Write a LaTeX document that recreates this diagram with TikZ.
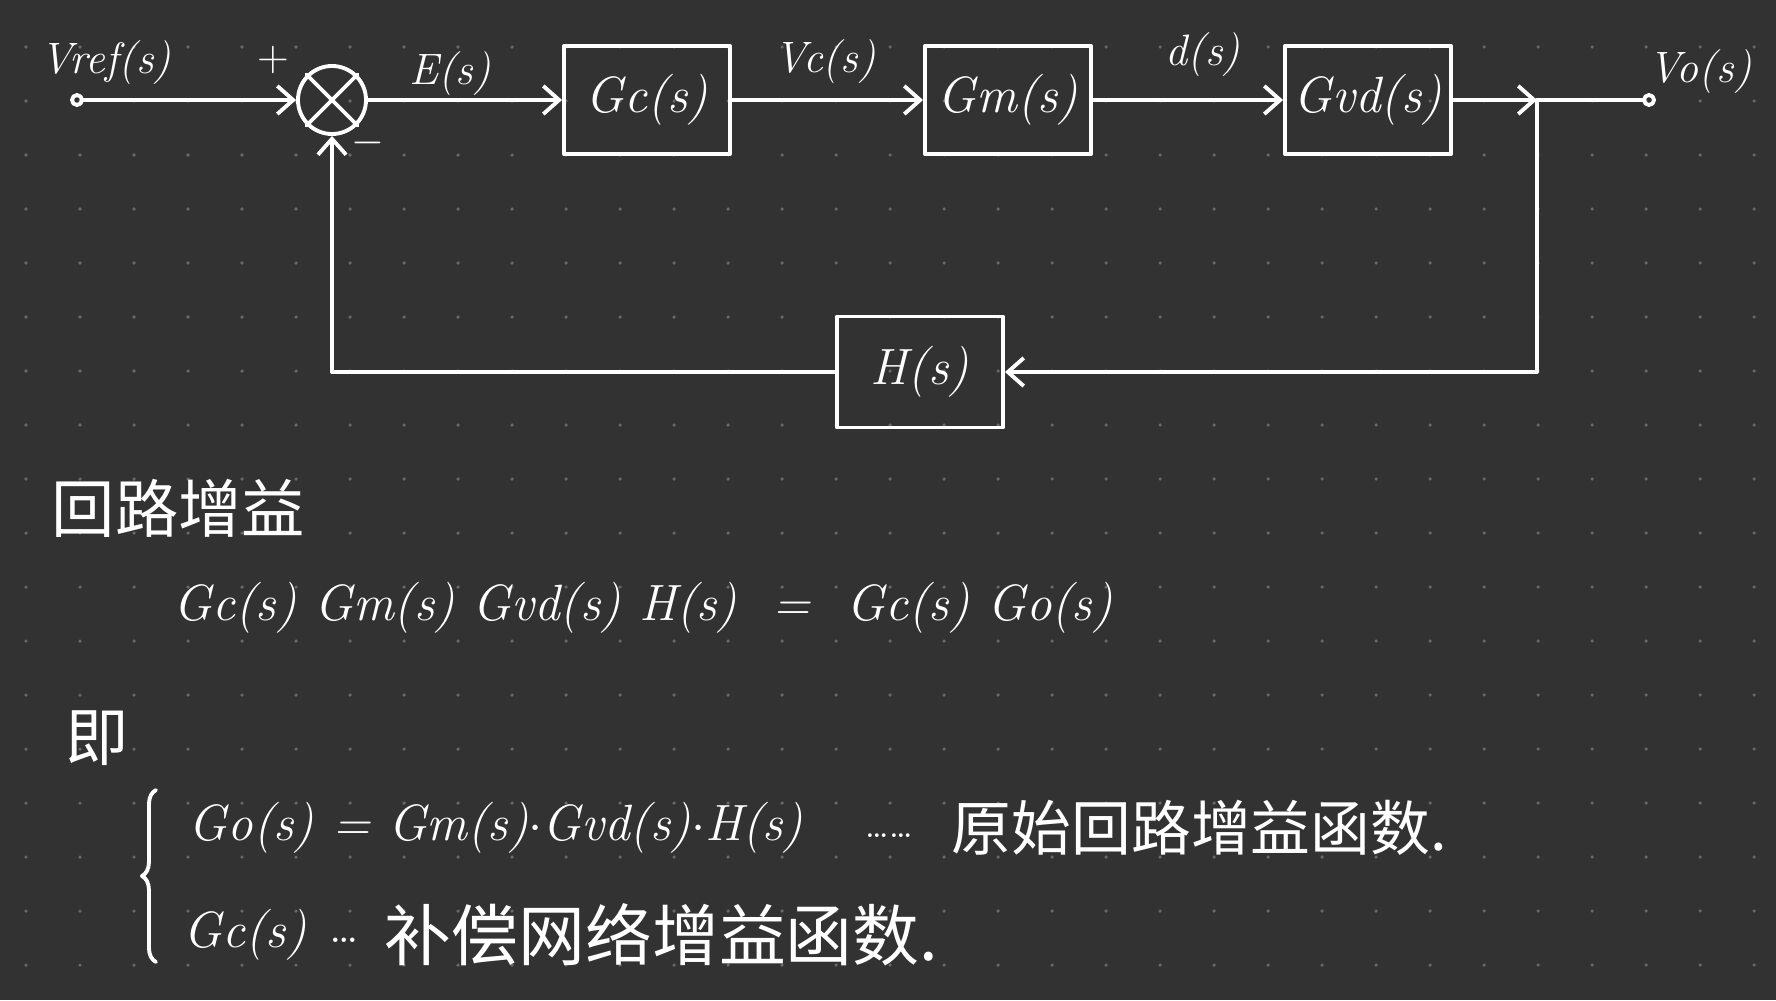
\documentclass[tikz,border=0pt]{standalone}
\usepackage{fontspec}
\newfontfamily\cjk{Noto Sans CJK SC}
\usetikzlibrary{arrows.meta,decorations.pathreplacing}
\definecolor{boardbg}{RGB}{50,50,50}
\definecolor{griddot}{RGB}{105,105,105}
\begin{document}
\begin{tikzpicture}[x=0.01cm,y=-0.01cm,line width=1.1pt,line cap=round,line join=round,white,
	>={Straight Barb[length=4.5pt,width=8pt]},
	blockbox/.style={draw,minimum width=1.66cm,minimum height=1.08cm,inner sep=0pt,font=\fontsize{14.5}{16}\selectfont\itshape},
	sumnode/.style={draw,circle,minimum size=0.68cm,inner sep=0pt},
	port/.style={draw,circle,minimum size=0.1cm,inner sep=0pt},
	siglabel/.style={font=\fontsize{12.5}{14}\selectfont\itshape},
	eqtext/.style={anchor=west,inner sep=0pt,font=\fontsize{14.5}{17}\selectfont\itshape},
	cntext/.style={anchor=west,inner sep=0pt,font=\cjk\fontsize{17}{19}\selectfont}]
	\fill[boardbg] (0,0) rectangle (1776,1000);
	\foreach \i in {0,...,32} \foreach \j in {0,...,17} \fill[griddot] (26+54*\i,47+54*\j) circle(0.5pt);
	\node[port] (vin) at (77,100) {};
	\node[siglabel] (vreflbl) at (106,63) {Vref(s)};
	\node[sumnode] (sum) at (332,100) {};
	\draw (sum.north west) -- (sum.south east) (sum.north east) -- (sum.south west);
	\node[siglabel] (plus) at (273,60) {$+$};
	\node[siglabel] (minus) at (368,143) {$-$};
	\node[blockbox] (gc) at (647,100) {Gc(s)};
	\node[blockbox] (gm) at (1008,100) {Gm(s)};
	\node[blockbox] (gvd) at (1368,100) {Gvd(s)};
	\node[blockbox,minimum height=1.11cm] (h) at (920,372) {H(s)};
	\coordinate (tap) at (1537,100);
	\node[port] (vout) at (1649,100) {};
	\coordinate (fbr) at (1537,372);
	\coordinate (fbl) at (332,372);
	\node[siglabel] (elbl) at (450,74) {E(s)};
	\node[siglabel] (vclbl) at (825,62) {Vc(s)};
	\node[siglabel] (dlbl) at (1203,55) {d(s)};
	\node[siglabel] (volbl) at (1700,72) {Vo(s)};
	\draw[->] (vin) -- (sum);
	\draw[->] (sum) -- (gc);
	\draw[->] (gc) -- (gm);
	\draw[->] (gm) -- (gvd);
	\draw[->] (gvd) -- (tap);
	\draw (tap) -- (vout);
	\draw[->] (tap) -- (fbr) -- (h);
	\draw[->] (h) -- (fbl) -- (sum);
	\node[cntext,font=\cjk\fontsize{18}{20}\selectfont] (looptitle) at (50,508) {回路增益};
	\node[eqtext] (loopeq) at (172,608) {Gc(s) Gm(s) Gvd(s) H(s) \ = \ Gc(s) Go(s)};
	\node[cntext,font=\cjk\fontsize{18}{20}\selectfont] (ie) at (64,738) {即};
	\draw[decorate,decoration={brace,amplitude=4pt}] (156,962) -- (156,790);
	\node[eqtext] (goeq) at (187,828) {Go(s) = Gm(s)$\cdot$Gvd(s)$\cdot$H(s)};
	\node[eqtext,font=\fontsize{10}{12}\selectfont] (dotsa) at (864,836) {\ldots\ldots};
	\node[cntext] (gonote) at (950,828) {原始回路增益函数.};
	\node[eqtext] (gcterm) at (182,935) {Gc(s)};
	\node[eqtext,font=\fontsize{13}{14}\selectfont] (dotsb) at (328,940) {\ldots};
	\node[cntext,font=\cjk\fontsize{19}{21}\selectfont] (gcnote) at (383,935) {补偿网络增益函数.};
\end{tikzpicture}
\end{document}
